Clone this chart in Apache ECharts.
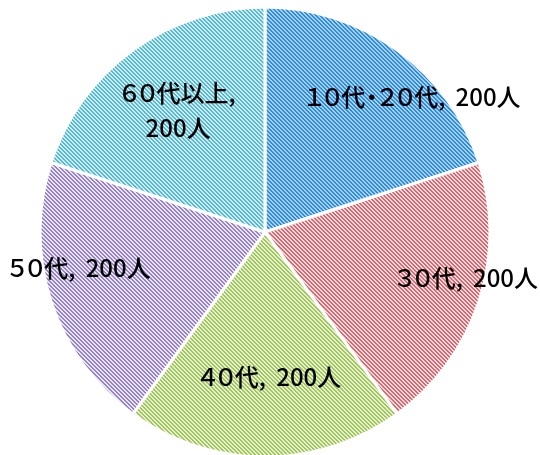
<!DOCTYPE html>
<html><head><meta charset="utf-8">
<script src="https://cdn.jsdelivr.net/npm/echarts@6/dist/echarts.min.js"></script>
<style>html,body{margin:0;padding:0;background:#fff}#c{width:540px;height:455px}</style>
</head><body><div id="c"></div>
<script>
const categories = ['１０代・２０代', '３０代', '４０代', '５０代', '６０代以上'];
const values = [200, 200, 200, 200, 200];
const unit = '人';
const lightColors = ['#9dd4f7', '#f6d9d8', '#e5f0cf', '#e9e3f2', '#cdebf2'];
const darkColors  = ['#3588d6', '#d26a75', '#a2c45c', '#9683c0', '#58b9cb'];
// label placement (style): angle offset in degrees, radius fraction
const labelAngleOffset = [-11.6, 5.2, 2, -7, -0.5];
const labelRadiusFrac = [0.89, 0.92, 0.645, 0.84, 0.665];

function pattern(light, dark) {
  const c = document.createElement('canvas');
  c.width = 4; c.height = 4;
  const g = c.getContext('2d');
  g.fillStyle = light; g.fillRect(0, 0, 4, 4);
  g.fillStyle = dark;
  for (let y = 0; y < 4; y++) for (let x = 0; x < 4; x++) {
    if (((x - y) % 4 + 4) % 4 < 2) g.fillRect(x, y, 1, 1);
  }
  return c;
}
// tighten full-width digits / middle dot (proportional look)
function tighten(s) {
  return s.replace(/[\uFF10-\uFF19]/g, m => '{fw|' + m + '}').replace(/\u30FB/g, m => '{dot|' + m + '}');
}

const chart = echarts.init(document.getElementById('c'), null, {renderer: 'canvas'});
const cx = 265, cy = 232, R = 225;
const total = values.reduce((a, b) => a + b, 0);
const font = '"Noto Sans CJK JP", sans-serif';
const fs = 24;
chart.setOption({
  animation: false,
  series: [{
    type: 'pie',
    center: [cx, cy],
    radius: [0, R],
    startAngle: 90,
    clockwise: true,
    data: categories.map((n, i) => ({
      name: n, value: values[i],
      itemStyle: {color: {image: pattern(lightColors[i], darkColors[i]), repeat: 'repeat'}}
    })),
    itemStyle: {borderColor: '#fff', borderWidth: 3},
    label: {
      show: true, position: 'inside',
      formatter: p => tighten(p.name) + (p.dataIndex === 4 ? ',\n' : ',\u2009 ') + p.value + unit,
      fontFamily: font, fontWeight: 500,
      fontSize: fs, color: '#000', lineHeight: 35,
      rich: {
        fw: {fontFamily: font, fontWeight: 500, fontSize: fs, color: '#000', width: 18, align: 'center', lineHeight: 35},
        dot: {fontFamily: font, fontWeight: 500, fontSize: fs, color: '#000', width: 13, align: 'center', lineHeight: 35}
      }
    },
    labelLine: {show: false},
    labelLayout: function (params) {
      const i = params.dataIndex;
      let before = 0;
      for (let k = 0; k < i; k++) before += values[k];
      const mid = 90 - 360 * (before + values[i] / 2) / total + labelAngleOffset[i];
      const a = mid * Math.PI / 180;
      const r = R * labelRadiusFrac[i];
      return {x: cx + r * Math.cos(a), y: cy - r * Math.sin(a), align: 'center', verticalAlign: 'middle'};
    }
  }]
});
</script></body></html>
